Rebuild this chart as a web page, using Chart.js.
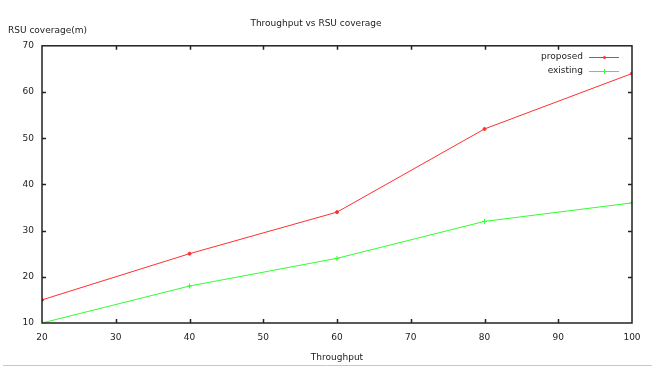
<!DOCTYPE html>
<html>
<head>
<meta charset="utf-8">
<script src="https://cdn.jsdelivr.net/npm/chart.js@4/dist/chart.umd.min.js"></script>
<style>
  html, body { margin: 0; padding: 0; background: #fff; }
  #wrap { width: 652px; height: 367px; }
</style>
</head>
<body>
<div id="wrap"><canvas id="chart" width="652" height="367"></canvas></div>
<script>
// values
const throughput = [20, 40, 60, 80, 100];
const proposed = [15, 25, 34, 52, 64];
const existing = [10, 18, 24, 32, 36];

const xTicks = [20, 30, 40, 50, 60, 70, 80, 90, 100];
const yTicks = [10, 20, 30, 40, 50, 60, 70];

const fontFam = "'DejaVu Sans', sans-serif";
const textColor = "#222";

function pts(vals){
  return throughput.map((x, i) => ({x: x, y: vals[i]}));
}

// frame, inner ticks, legend and y label (gnuplot look)
const gnuplotLook = {
  id: 'gnuplotLook',
  afterDraw(chart){
    const ctx = chart.ctx;
    const a = chart.chartArea;
    const xs = chart.scales.x;
    const ys = chart.scales.y;
    ctx.save();
    ctx.strokeStyle = "#222";
    ctx.lineWidth = 1.5;
    ctx.strokeRect(a.left, a.top, a.right - a.left, a.bottom - a.top);

    const t = 4;
    ctx.beginPath();
    xTicks.forEach(v => {
      const px = Math.round(xs.getPixelForValue(v)) + 0.5;
      if (v != xs.min && v != xs.max) {
        ctx.moveTo(px, a.bottom); ctx.lineTo(px, a.bottom - t);
        ctx.moveTo(px, a.top); ctx.lineTo(px, a.top + t);
      }
    });
    yTicks.forEach(v => {
      const py = Math.round(ys.getPixelForValue(v)) + 0.5;
      if (v != ys.min && v != ys.max) {
        ctx.moveTo(a.left, py); ctx.lineTo(a.left + t, py);
        ctx.moveTo(a.right, py); ctx.lineTo(a.right - t, py);
      }
    });
    ctx.stroke();

    // y axis label, top left
    ctx.fillStyle = textColor;
    ctx.font = "9px " + fontFam;
    ctx.textAlign = "left";
    ctx.textBaseline = "middle";
    ctx.fillText("RSU coverage(m)", 8, 31);

    // legend
    const items = chart.data.datasets;
    items.forEach((ds, i) => {
      const y = 57 + i * 14;
      ctx.fillStyle = textColor;
      ctx.textAlign = "right";
      ctx.fillText(ds.label, 583, y);
      ctx.strokeStyle = ds.borderColor;
      ctx.fillStyle = ds.borderColor;
      ctx.lineWidth = 1;
      ctx.beginPath();
      ctx.moveTo(589, y + 0.5); ctx.lineTo(619, y + 0.5);
      ctx.stroke();
      if (ds.pointStyle == 'cross') {
        ctx.beginPath();
        ctx.moveTo(604.5, y - 2); ctx.lineTo(604.5, y + 3);
        ctx.stroke();
      } else {
        ctx.beginPath();
        ctx.arc(604.5, y + 0.5, 1.5, 0, Math.PI * 2);
        ctx.fill();
      }
    });

    // thin grey rule at the bottom of the picture
    ctx.strokeStyle = "#c8c8c8";
    ctx.lineWidth = 1;
    ctx.beginPath();
    ctx.moveTo(3, 365.5); ctx.lineTo(652, 365.5);
    ctx.stroke();
    ctx.restore();
  }
};

const ctx = document.getElementById('chart').getContext('2d');
const chart = new Chart(ctx, {
  type: 'line',
  data: {
    datasets: [{
      label: "proposed",
      data: pts(proposed),
      borderColor: "#ff3030",
      backgroundColor: "#ff3030",
      borderWidth: 1,
      pointStyle: 'circle',
      pointRadius: 1.5,
      fill: false,
      tension: 0
    }, {
      label: "existing",
      data: pts(existing),
      borderColor: "#30ff30",
      backgroundColor: "#30ff30",
      borderWidth: 1,
      pointStyle: 'cross',
      pointRadius: 2.5,
      fill: false,
      tension: 0
    }]
  },
  options: {
    animation: false,
    responsive: false,
    layout: { padding: { left: 0, right: 20, top: 0, bottom: 0 } },
    plugins: {
      legend: { display: false },
      tooltip: { enabled: false },
      title: {
        display: true,
        text: "Throughput vs RSU coverage",
        color: textColor,
        font: { family: fontFam, size: 9, weight: 'normal' },
        padding: { top: 18, bottom: 17 }
      }
    },
    scales: {
      x: {
        type: 'linear',
        min: 20, max: 100,
        afterBuildTicks: s => { s.ticks = xTicks.map(v => ({value: v})); },
        afterFit: s => { s.height = 44; },
        grid: { display: false, drawTicks: false },
        border: { display: false },
        ticks: { color: textColor, padding: 9, maxRotation: 0,
                 font: { family: fontFam, size: 9 } },
        title: {
          display: true, text: "Throughput", color: textColor,
          font: { family: fontFam, size: 9 },
          padding: { top: 0, bottom: 4 }
        }
      },
      y: {
        min: 10, max: 70,
        afterBuildTicks: s => { s.ticks = yTicks.map(v => ({value: v})); },
        afterFit: s => { s.width = 42; },
        grid: { display: false, drawTicks: false },
        border: { display: false },
        ticks: { color: textColor, padding: 8,
                 font: { family: fontFam, size: 9 } }
      }
    }
  },
  plugins: [gnuplotLook]
});
</script>
</body>
</html>
